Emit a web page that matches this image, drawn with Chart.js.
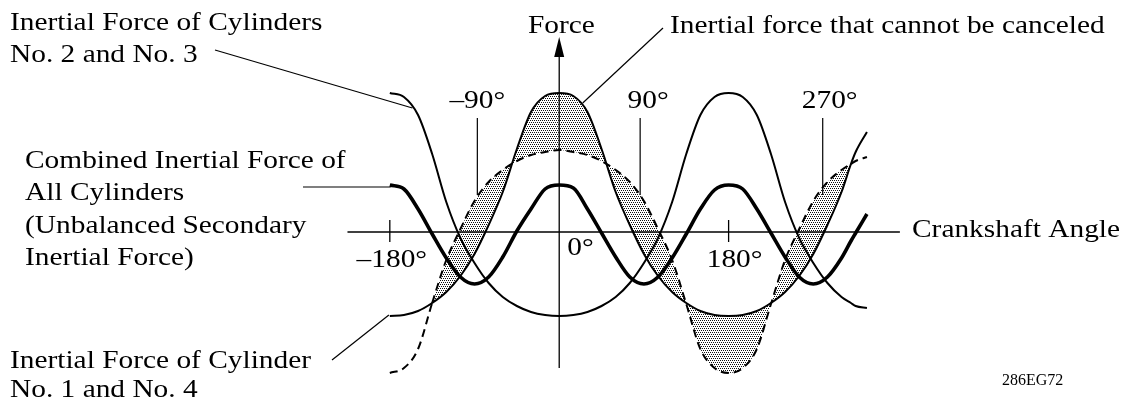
<!DOCTYPE html>
<html>
<head>
<meta charset="utf-8">
<script src="https://cdn.jsdelivr.net/npm/chart.js@4.4.1/dist/chart.umd.min.js"></script>
<style>
  html, body { margin: 0; padding: 0; background: #fff; }
</style>
</head>
<body>
<canvas id="chart" width="1125" height="404"></canvas>
<script>
const angles = [-180, -165, -150, -135, -120, -105, -90, -75, -60, -45, -30, -15, 0,
  15, 30, 45, 60, 75, 90, 105, 120, 135, 150, 165, 180,
  195, 210, 225, 240, 255, 270, 285, 300, 310, 315, 327];

// inertial force of cylinder No. 1 and No. 4 (thin line)
const cyl14 = [-84, -83, -79, -71, -60, -44, -22, 7, 40, 83, 120, 136, 139,
  136, 120, 83, 40, 7, -22, -44, -60, -71, -79, -83, -84,
  -83, -79, -71, -60, -44, -22, 7, 40, 68, 80, 100];

// inertial force of cylinders No. 2 and No. 3 (thin line)
const cyl23 = [139, 135, 117, 78, 30, -6, -31, -51, -65, -74, -80, -83, -84,
  -83, -80, -74, -65, -51, -31, -6, 30, 78, 117, 135, 139,
  135, 117, 78, 30, -6, -31, -51, -65, -71, -74, -76];

// combined inertial force of all cylinders (thick line)
const combined = [47, 43, 23, -2, -26, -45, -52, -45, -25, 1, 23, 43, 47,
  44, 23, -1, -25, -45, -52, -45, -26, -2, 23, 42, 47,
  43, 23, -1, -25, -45, -52, -45, -26, -9, -1, 18];

// dashed reference curve
const dashed = [-141, -136, -117, -71, -28, 3, 31, 50, 62, 71, 77, 80, 82,
  80, 77, 71, 62, 50, 31, 3, -28, -72, -117, -136, -141,
  -136, -117, -72, -28, 3, 31, 50, 62, 68, 71, 75];

// angle range where the area between the dashed curve and cylinders 1/4 is shaded
const shadeFrom = -135;
const shadeTo = 310;

const tickAngles = [-180, 0, 180];
const tickLabels = ["\u2013180\u00b0", "0\u00b0", "180\u00b0"];
const markerAngles = [-87, 86, 280];
const markerLabels = ["\u201390\u00b0", "90\u00b0", "270\u00b0"];

const SERIF = '"Liberation Serif", "Times New Roman", serif';

function pts(values) {
  return angles.map((a, i) => ({ x: a, y: values[i] }));
}

function stipple() {
  const c = document.createElement("canvas");
  c.width = 4;
  c.height = 4;
  const g = c.getContext("2d");
  g.fillStyle = "#111";
  [[0, 0], [2, 0], [1, 2], [3, 2]].forEach(([a, b]) => g.fillRect(a, b, 1, 1));
  return g.createPattern(c, "repeat");
}

function text(ctx, str, x, y, align, size, stretch) {
  ctx.save();
  ctx.font = (size || 26) + "px " + SERIF;
  ctx.fillStyle = "#000";
  ctx.textBaseline = "alphabetic";
  ctx.textAlign = align || "left";
  ctx.translate(x, y);
  ctx.scale(stretch || 1.13, 1);
  ctx.fillText(str, 0, 0);
  ctx.restore();
}

function line(ctx, x1, y1, x2, y2) {
  ctx.beginPath();
  ctx.moveTo(x1, y1);
  ctx.lineTo(x2, y2);
  ctx.stroke();
}

// axes, ticks and arrow, then all the annotation text
const axesPlugin = {
  id: "axes",
  beforeDatasetsDraw(chart) {
    const { ctx, scales: { x, y } } = chart;
    const x0 = x.getPixelForValue(0);
    const y0 = y.getPixelForValue(0);
    ctx.save();
    ctx.strokeStyle = "#000";
    ctx.lineWidth = 1.3;
    line(ctx, x.getPixelForValue(-225), y0, x.getPixelForValue(362), y0);
    line(ctx, x0, y.getPixelForValue(-136), x0, y.getPixelForValue(178));
    [-180, 180].forEach((a) => {
      const px = x.getPixelForValue(a);
      line(ctx, px, y.getPixelForValue(12), px, y.getPixelForValue(-10));
    });
    ctx.fillStyle = "#000";
    ctx.beginPath();
    ctx.moveTo(x0, y.getPixelForValue(195));
    ctx.lineTo(x0 - 5, y.getPixelForValue(175));
    ctx.lineTo(x0 + 5, y.getPixelForValue(175));
    ctx.closePath();
    ctx.fill();
    ctx.restore();
  },
  afterDraw(chart) {
    const { ctx, scales: { x, y } } = chart;
    ctx.save();
    ctx.strokeStyle = "#000";
    ctx.lineWidth = 1.2;

    // angle labels on the axis
    text(ctx, tickLabels[0], x.getPixelForValue(tickAngles[0]) + 2, 267, "center");
    text(ctx, tickLabels[1], x.getPixelForValue(tickAngles[1]) + 8, 255, "left");
    text(ctx, tickLabels[2], x.getPixelForValue(tickAngles[2]) + 6, 267, "center");

    // angle markers with leaders down to the dashed curve
    const shift = [0, 8, 7];
    markerAngles.forEach((a, i) => {
      const px = x.getPixelForValue(a);
      line(ctx, px, y.getPixelForValue(114), px, y.getPixelForValue(37));
      text(ctx, markerLabels[i], px + shift[i], 108, "center");
    });

    // curve labels
    text(ctx, "Inertial Force of Cylinders", 10, 30);
    text(ctx, "No. 2 and No. 3", 10, 62);
    line(ctx, 215, 50, x.getPixelForValue(-156), y.getPixelForValue(124));

    text(ctx, "Combined Inertial Force of", 25, 168);
    text(ctx, "All Cylinders", 25, 200);
    text(ctx, "(Unbalanced Secondary", 25, 233);
    text(ctx, "Inertial Force)", 25, 265);
    line(ctx, 303, 187, x.getPixelForValue(-179), 187);

    text(ctx, "Inertial Force of Cylinder", 10, 368);
    text(ctx, "No. 1 and No. 4", 10, 397);
    line(ctx, 332, 360, x.getPixelForValue(-181), y.getPixelForValue(-83));

    text(ctx, "Force", 528, 33);
    text(ctx, "Inertial force that cannot be canceled", 670, 33);
    line(ctx, 663, 28, x.getPixelForValue(25), y.getPixelForValue(129));

    text(ctx, "Crankshaft Angle", 912, 237);
    text(ctx, "286EG72", 1002, 385, "left", 16, 1);
    ctx.restore();
  }
};

const common = {
  borderColor: "#000",
  pointRadius: 0,
  fill: false,
  cubicInterpolationMode: "monotone"
};

const dots = stipple();

new Chart(document.getElementById("chart"), {
  type: "line",
  data: {
    datasets: [
      { ...common, label: "Inertial Force of Cylinder No. 1 and No. 4", data: pts(cyl14), borderWidth: 2 },
      { ...common, label: "Inertial Force of Cylinders No. 2 and No. 3", data: pts(cyl23), borderWidth: 2 },
      { ...common, label: "Combined Inertial Force of All Cylinders", data: pts(combined), borderWidth: 3.6 },
      {
        ...common,
        label: "Reference",
        data: pts(dashed),
        borderWidth: 2,
        borderDash: [8, 5],
        fill: { target: 0 },
        backgroundColor: dots,
        segment: {
          backgroundColor: (c) =>
            c.p0.parsed.x >= shadeFrom && c.p1.parsed.x <= shadeTo ? dots : "rgba(0,0,0,0)"
        }
      }
    ]
  },
  options: {
    responsive: false,
    animation: false,
    layout: { padding: { left: 371, right: 227, top: 42, bottom: 22 } },
    plugins: { legend: { display: false }, tooltip: { enabled: false } },
    scales: {
      x: { type: "linear", min: -200, max: 360, display: false },
      y: { min: -150, max: 190, display: false }
    }
  },
  plugins: [axesPlugin]
});
</script>
</body>
</html>
